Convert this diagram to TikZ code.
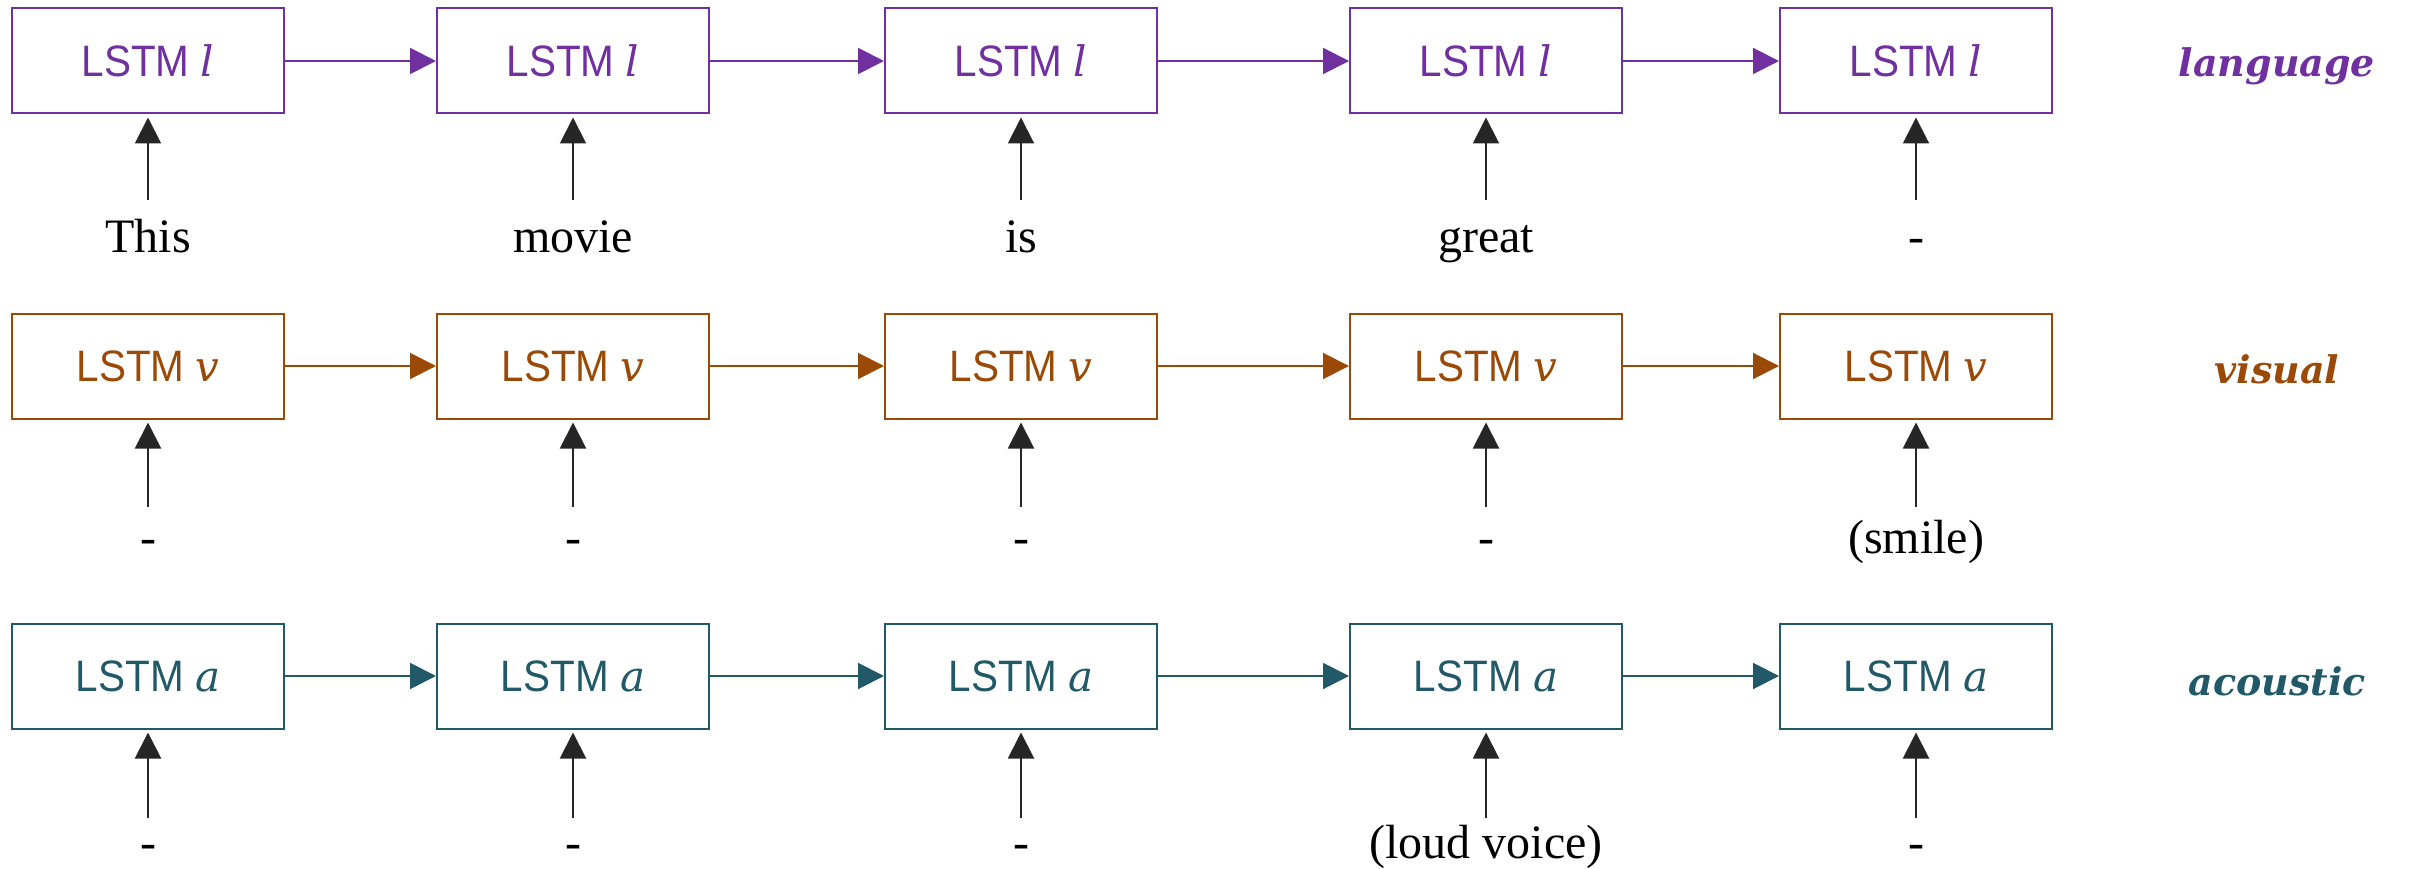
\documentclass[tikz,border=0pt]{standalone}
\usepackage{fontspec}
\setmainfont{Liberation Serif}
\newfontfamily\boxfont[FakeStretch=0.92]{Liberation Sans}
\newfontfamily\modfont{DejaVu Serif}
\usetikzlibrary{arrows.meta}
\definecolor{cl}{HTML}{7030A0}
\definecolor{cv}{HTML}{9A4A06}
\definecolor{ca}{HTML}{215968}
\definecolor{ink}{HTML}{262626}
\newcommand{\varlet}[1]{{\modfont\itshape\fontsize{42}{48}\selectfont #1}}
\begin{document}
\begin{tikzpicture}[x=1pt,y=-1pt,
  lstm/.style={draw, line width=2pt, minimum width=272pt, minimum height=105pt, inner sep=0pt, font=\boxfont\fontsize{44}{50}\selectfont},
  rec/.style={-{Triangle[length=26pt,width=26pt]}, line width=2pt},
  inp/.style={-{Triangle[length=26pt,width=26pt]}, line width=2pt, color=ink, shorten >=3pt},
  word/.style={anchor=base, inner sep=0pt, font=\fontsize{48}{54}\selectfont},
  modlab/.style={font=\modfont\bfseries\itshape\fontsize{38}{42}\selectfont}]
\fill[white] (0,0) rectangle (2410,869);
\useasboundingbox (0,0) rectangle (2410,869);
\foreach \r/\y/\c/\v in {1/61/cl/l, 2/366/cv/v, 3/676/ca/a} {
  \foreach \i/\x in {1/148,2/573,3/1021,4/1486,5/1916} {
    \node[lstm, draw=\c, text=\c] (b\r\i) at (\x,\y) {LSTM \varlet{\v}};
  }
  \foreach \i [evaluate=\i as \j using int(\i+1)] in {1,...,4} {
    \draw[rec, color=\c] (b\r\i) -- (b\r\j);
  }
}
\foreach \i/\x/\w in {1/148/This, 2/573/movie, 3/1021/is, 4/1486/great, 5/1916/-} {
  \coordinate (t1\i) at (\x,200);
  \node[word] (w1\i) at (\x,253) {\w};
  \draw[inp] (t1\i) -- (b1\i);
}
\foreach \i/\x/\w in {1/148/-, 2/573/-, 3/1021/-, 4/1486/-, 5/1916/{(smile)}} {
  \coordinate (t2\i) at (\x,507);
  \node[word] (w2\i) at (\x,553) {\w};
  \draw[inp] (t2\i) -- (b2\i);
}
\foreach \i/\x/\w in {1/148/-, 2/573/-, 3/1021/-, 4/1486/{(loud voice)}, 5/1916/-} {
  \coordinate (t3\i) at (\x,818);
  \node[word] (w3\i) at (\x,858) {\w};
  \draw[inp] (t3\i) -- (b3\i);
}
\node[modlab, text=cl] (ml) at (2277,66) {language};
\node[modlab, text=cv] (mv) at (2277,369) {visual};
\node[modlab, text=ca] (ma) at (2277,681) {acoustic};
\end{tikzpicture}
\end{document}
